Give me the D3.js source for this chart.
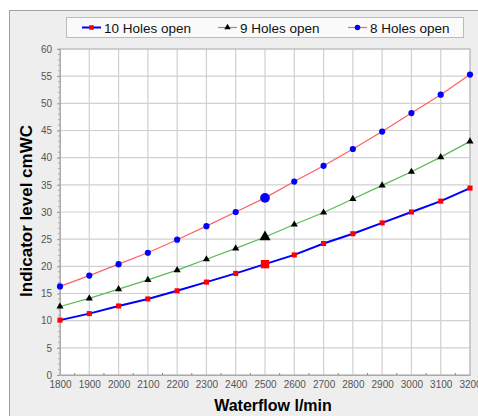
<!DOCTYPE html>
<html>
<head>
<meta charset="utf-8">
<script src="https://cdn.jsdelivr.net/npm/d3@7"></script>
<style>
  body { margin: 0; background: #fff; }
  svg { display: block; font-family: "Liberation Sans", Arial, sans-serif; }
</style>
</head>
<body>
<div id="chart"></div>
<script>
// data
var flows = [1800, 1900, 2000, 2100, 2200, 2300, 2400, 2500, 2600, 2700, 2800, 2900, 3000, 3100, 3200];
var holes10 = [10.1, 11.3, 12.7, 14.0, 15.5, 17.1, 18.7, 20.4, 22.1, 24.2, 26.0, 28.0, 30.0, 32.0, 34.4];
var holes9 = [12.6, 14.1, 15.8, 17.5, 19.3, 21.3, 23.3, 25.4, 27.7, 29.9, 32.4, 34.9, 37.4, 40.1, 43.0];
var holes8 = [16.3, 18.3, 20.4, 22.5, 24.9, 27.4, 30.0, 32.6, 35.6, 38.5, 41.6, 44.8, 48.2, 51.6, 55.3];
var seriesNames = ["10 Holes open", "9 Holes open", "8 Holes open"];
var yTicks = [0, 5, 10, 15, 20, 25, 30, 35, 40, 45, 50, 55, 60];
var highlightFlow = 2500;

var svgWidth = 478, svgHeight = 416;
var margin = { top: 49, right: 8, bottom: 41, left: 60 };
var width = 470 - margin.left;
var height = 375 - margin.top;

var svg = d3.select("#chart")
  .append("svg")
  .attr("width", svgWidth)
  .attr("height", svgHeight);

// outer panel
svg.append("rect").attr("x", 9.5).attr("y", 10.5)
  .attr("width", svgWidth).attr("height", svgHeight)
  .attr("fill", "#eeeeee").attr("stroke", "#a0a0a0");

var chartGroup = svg.append("g")
  .attr("transform", `translate(${margin.left}, ${margin.top})`);

var x = d3.scaleLinear().domain([1800, 3200]).range([0, width]);
var y = d3.scaleLinear().domain([0, 60]).range([height, 0]);

chartGroup.append("rect").attr("width", width).attr("height", height).attr("fill", "#fff");

// grid
chartGroup.append("g").selectAll("line").data(flows).enter().append("line")
  .attr("x1", d => x(d)).attr("x2", d => x(d)).attr("y1", 0).attr("y2", height)
  .attr("stroke", "#d0d0d0").attr("stroke-width", 1.2);
chartGroup.append("g").selectAll("line").data(yTicks).enter().append("line")
  .attr("x1", 0).attr("x2", width).attr("y1", d => y(d)).attr("y2", d => y(d))
  .attr("stroke", "#d0d0d0").attr("stroke-width", 1.2);

chartGroup.append("rect").attr("width", width).attr("height", height)
  .attr("fill", "none").attr("stroke", "#b8b8b8");

// axes
var bottomAxis = d3.axisBottom(x).tickValues(flows).tickSize(0).tickPadding(6).tickFormat(d3.format("d"));
var leftAxis = d3.axisLeft(y).tickValues(yTicks).tickSize(3).tickPadding(5);

var xg = chartGroup.append("g").attr("transform", `translate(0, ${height})`).call(bottomAxis);
var yg = chartGroup.append("g").call(leftAxis);
[xg, yg].forEach(function (g) {
  g.select(".domain").attr("stroke", "#aaa");
  g.selectAll(".tick line").attr("stroke", "#999");
  g.selectAll("text").attr("fill", "#555").style("font-size", "10px").style("font-family", "Liberation Sans, Arial, sans-serif");
});

// minor ticks
chartGroup.append("g").selectAll("line").data(d3.range(0, 61, 1)).enter().append("line")
  .attr("x1", -2).attr("x2", 0).attr("y1", d => y(d)).attr("y2", d => y(d))
  .attr("stroke", "#aaa");
chartGroup.append("g").selectAll("line").data(d3.range(1850, 3200, 100)).enter().append("line")
  .attr("x1", d => x(d)).attr("x2", d => x(d)).attr("y1", height).attr("y2", height - 2)
  .attr("stroke", "#888");

// axis titles
svg.append("text").attr("x", 273).attr("y", 411).attr("text-anchor", "middle")
  .style("font-size", "16px").style("font-weight", "bold").text("Waterflow l/min");
svg.append("text").attr("transform", "translate(32, 211) rotate(-90)").attr("text-anchor", "middle")
  .style("font-size", "17px").style("font-weight", "bold").text("Indicator level cmWC");

// series
var series = [
  { name: seriesNames[0], values: holes10, line: "#0000ff", lw: 2, marker: "#ff0000", shape: d3.symbolSquare, size: 26, big: 70 },
  { name: seriesNames[1], values: holes9, line: "#55bb55", lw: 1.2, marker: "#000000", shape: d3.symbolTriangle, size: 22, big: 55 },
  { name: seriesNames[2], values: holes8, line: "#ff6060", lw: 1.2, marker: "#0000ff", shape: d3.symbolCircle, size: 30, big: 75 }
];

var line = d3.line().x(d => x(d[0])).y(d => y(d[1]));

series.forEach(function (s) {
  var pts = flows.map((f, i) => [f, s.values[i]]);
  chartGroup.append("path").datum(pts).attr("d", line)
    .attr("fill", "none").attr("stroke", s.line).attr("stroke-width", s.lw);
  chartGroup.append("g").selectAll("path").data(pts).enter().append("path")
    .attr("transform", d => `translate(${x(d[0])}, ${y(d[1])})`)
    .attr("d", d => d3.symbol().type(s.shape).size(d[0] === highlightFlow ? s.big : s.size)())
    .attr("fill", s.marker);
});

// legend
var legend = svg.append("g");
legend.append("rect").attr("x", 66.5).attr("y", 17.5).attr("width", 397).attr("height", 20)
  .attr("fill", "#fafafa").attr("stroke", "#bbb");
var legendX = [82, 218, 348];
series.forEach(function (s, i) {
  var g = legend.append("g").attr("transform", `translate(${legendX[i]}, 27.5)`);
  g.append("line").attr("x1", 0).attr("x2", 19).attr("stroke", s.line).attr("stroke-width", s.lw);
  g.append("path").attr("transform", "translate(9.5, 0)")
    .attr("d", d3.symbol().type(s.shape).size(s.size * 0.8)()).attr("fill", s.marker);
  g.append("text").attr("x", 22).attr("y", 5).style("font-size", "13.5px").attr("fill", "#111").text(s.name);
});
</script>
</body>
</html>
